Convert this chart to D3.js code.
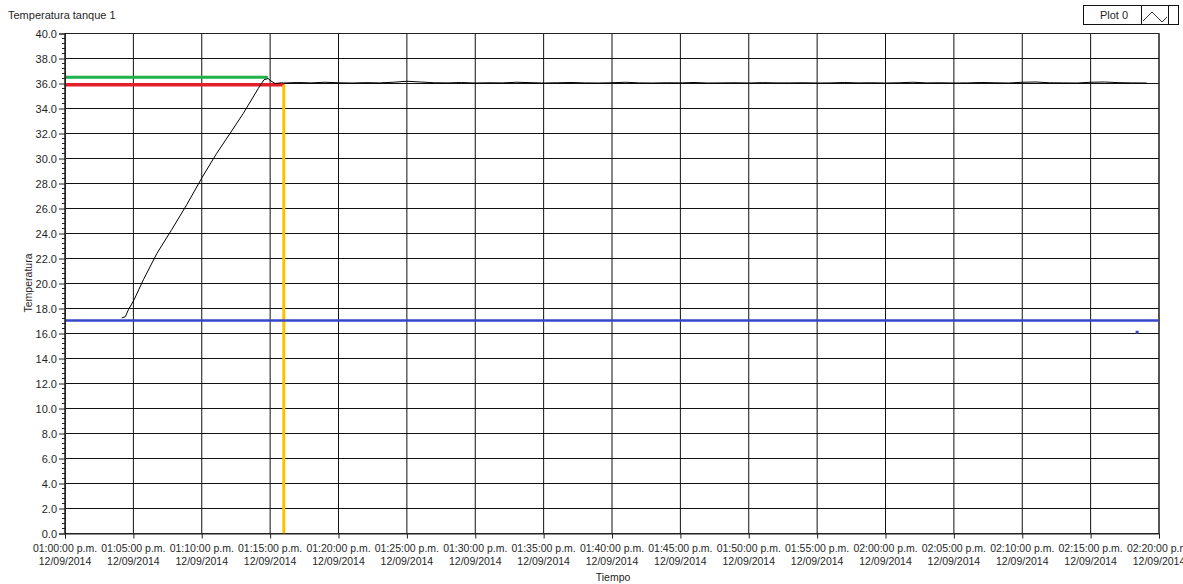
<!DOCTYPE html>
<html>
<head>
<meta charset="utf-8">
<script src="https://cdn.jsdelivr.net/npm/d3@7"></script>
<style>
  html, body { margin: 0; padding: 0; background: #ffffff; }
  svg { display: block; font-family: "Liberation Sans", "DejaVu Sans", sans-serif; }
</style>
</head>
<body>
<svg id="chart" width="1183" height="584"></svg>
<script>
// ---------- data ----------
const chartTitle = "Temperatura tanque 1";
const xLabel = "Tiempo";
const yLabel = "Temperatura";
const legendLabel = "Plot 0";
const dateLabel = "12/09/2014";

const xDomain = ["13:00:00", "14:20:00"];
const yDomain = [0, 40];
const xTicks = ["13:00:00","13:05:00","13:10:00","13:15:00","13:20:00","13:25:00","13:30:00","13:35:00",
                "13:40:00","13:45:00","13:50:00","13:55:00","14:00:00","14:05:00","14:10:00","14:15:00","14:20:00"];
const xTickLabels = ["01:00:00 p.m.","01:05:00 p.m.","01:10:00 p.m.","01:15:00 p.m.","01:20:00 p.m.","01:25:00 p.m.",
                     "01:30:00 p.m.","01:35:00 p.m.","01:40:00 p.m.","01:45:00 p.m.","01:50:00 p.m.","01:55:00 p.m.",
                     "02:00:00 p.m.","02:05:00 p.m.","02:10:00 p.m.","02:15:00 p.m.","02:20:00 p.m."];
const yTicks = [0,2,4,6,8,10,12,14,16,18,20,22,24,26,28,30,32,34,36,38,40];

// temperature series (black trace)
const tempTimes = [
  "13:04:09","13:04:25","13:04:38","13:05:03","13:05:44","13:06:43","13:07:48","13:08:54",
  "13:10:02","13:11:05","13:12:04","13:13:02","13:14:08","13:14:33","13:14:51","13:15:04",
  "13:15:22","13:15:50",
  "13:16:00","13:17:00","13:18:00","13:19:00","13:20:00","13:21:00","13:22:00","13:23:00",
  "13:24:00","13:25:00","13:26:00","13:27:00","13:28:00","13:29:00","13:30:00","13:31:00",
  "13:32:00","13:33:00","13:34:00","13:35:00","13:36:00","13:37:00","13:38:00","13:39:00",
  "13:40:00","13:41:00","13:42:00","13:43:00","13:44:00","13:45:00","13:46:00","13:47:00",
  "13:48:00","13:49:00","13:50:00","13:51:00","13:52:00","13:53:00","13:54:00","13:55:00",
  "13:56:00","13:57:00","13:58:00","13:59:00","14:00:00","14:01:00","14:02:00","14:03:00",
  "14:04:00","14:05:00","14:06:00","14:07:00","14:08:00","14:09:00","14:10:00","14:11:00",
  "14:12:00","14:13:00","14:14:00","14:15:00","14:16:00","14:17:00","14:18:00","14:19:06"
];
const tempValues = [
  17.25,17.35,17.9,18.7,20.3,22.4,24.3,26.3,
  28.5,30.4,32.0,33.6,35.6,36.3,36.4,36.2,
  36.0,36.06,
  36.04,36.08,36.05,36.1,36.06,36.04,36.07,36.05,
  36.1,36.18,36.12,36.06,36.05,36.08,36.04,36.06,
  36.05,36.1,36.07,36.04,36.06,36.08,36.05,36.04,
  36.06,36.1,36.05,36.04,36.06,36.05,36.08,36.04,
  36.05,36.06,36.04,36.07,36.05,36.05,36.06,36.04,
  36.05,36.08,36.05,36.06,36.04,36.06,36.1,36.05,
  36.06,36.04,36.05,36.08,36.06,36.04,36.1,36.12,
  36.06,36.05,36.04,36.1,36.12,36.07,36.05,36.04
];

// reference markers
const greenLevel = 36.5,  greenEnd = "13:14:50";
const redLevel = 35.9,    redEnd = "13:16:03";
const yellowTime = "13:16:00";
const blueLevel = 17.05;
const blueDot = { time: "14:18:24", value: 16.1 };

// ---------- layout ----------
const svg = d3.select("#chart");
const parse = d3.timeParse("%H:%M:%S");
const L = 65, R = 1159, T = 33.5, B = 533.5;

const x = d3.scaleTime().domain(xDomain.map(parse)).range([L, R]);
const y = d3.scaleLinear().domain(yDomain).range([B, T]);

// plot background
svg.append("rect").attr("x", L).attr("y", T).attr("width", R - L).attr("height", B - T)
  .attr("fill", "#ffffff");

// grid
const grid = svg.append("g");
grid.selectAll("line.v").data(xTicks.map(parse)).join("line")
  .attr("x1", d => x(d)).attr("x2", d => x(d)).attr("y1", T).attr("y2", B)
  .attr("stroke", "#111").attr("stroke-width", 1);
grid.selectAll("line.h").data(yTicks).join("line")
  .attr("x1", L).attr("x2", R).attr("y1", d => y(d)).attr("y2", d => y(d))
  .attr("stroke", "#111").attr("stroke-width", 1);

// plot frame
svg.append("rect").attr("x", L).attr("y", T).attr("width", R - L).attr("height", B - T)
  .attr("fill", "none").attr("stroke", "#222").attr("stroke-width", 1);

// reference lines
svg.append("line")
  .attr("x1", x(parse(xDomain[0]))).attr("x2", x(parse(greenEnd)))
  .attr("y1", y(greenLevel)).attr("y2", y(greenLevel))
  .attr("stroke", "#1fb14a").attr("stroke-width", 3);
svg.append("line")
  .attr("x1", x(parse(xDomain[0]))).attr("x2", x(parse(redEnd)))
  .attr("y1", y(redLevel)).attr("y2", y(redLevel))
  .attr("stroke", "#e3202a").attr("stroke-width", 3.5);
svg.append("line")
  .attr("x1", x(parse(yellowTime))).attr("x2", x(parse(yellowTime)))
  .attr("y1", y(redLevel)).attr("y2", y(0))
  .attr("stroke", "#ffc000").attr("stroke-width", 3);
svg.append("line")
  .attr("x1", L).attr("x2", R)
  .attr("y1", y(blueLevel)).attr("y2", y(blueLevel))
  .attr("stroke", "#3547c8").attr("stroke-width", 2.5);
svg.append("rect")
  .attr("x", x(parse(blueDot.time)) - 1.5).attr("y", y(blueDot.value) - 1.5)
  .attr("width", 3).attr("height", 3).attr("fill", "#3547c8");

// temperature trace
const series = tempTimes.map((t, i) => ({ t: parse(t), v: tempValues[i] }));
svg.append("path").datum(series)
  .attr("fill", "none").attr("stroke", "#000").attr("stroke-width", 1)
  .attr("d", d3.line().x(d => x(d.t)).y(d => y(d.v)));

// y axis
const yAxis = d3.axisLeft(y).tickValues(yTicks).tickFormat(d3.format(".1f")).tickSize(6).tickPadding(2);
const yAxisG = svg.append("g").attr("transform", `translate(${L},0)`).call(yAxis);
yAxisG.select(".domain").attr("stroke", "#222");
yAxisG.selectAll(".tick line").attr("stroke", "#222");
yAxisG.selectAll("text").attr("font-size", "11px").attr("fill", "#1f1f1f")
  .attr("font-family", "Liberation Sans, sans-serif");
// minor ticks
const minor = d3.range(0, 40.0001, 0.4).filter(v => Math.abs(v / 2 - Math.round(v / 2)) > 0.01);
svg.append("g").selectAll("line").data(minor).join("line")
  .attr("x1", L - 3).attr("x2", L).attr("y1", d => y(d)).attr("y2", d => y(d))
  .attr("stroke", "#222").attr("stroke-width", 1);

// x axis
const xAxis = d3.axisBottom(x).tickValues(xTicks.map(parse)).tickFormat("").tickSize(5);
const xAxisG = svg.append("g").attr("transform", `translate(0,${B})`).call(xAxis);
xAxisG.select(".domain").attr("stroke", "#222");
xAxisG.selectAll(".tick line").attr("stroke", "#222");
const xl = svg.append("g").selectAll("text").data(xTicks.map((t, i) => ({ t: parse(t), lab: xTickLabels[i] })))
  .join("text")
  .attr("x", d => x(d.t)).attr("text-anchor", "middle")
  .attr("font-size", "10.5px").attr("fill", "#1f1f1f");
xl.append("tspan").attr("x", d => x(d.t)).attr("y", 552).text(d => d.lab);
xl.append("tspan").attr("x", d => x(d.t)).attr("y", 565).text(dateLabel);

// axis titles
svg.append("text").attr("x", 613).attr("y", 581).attr("text-anchor", "middle")
  .attr("font-size", "10.5px").attr("fill", "#1f1f1f").text(xLabel);
svg.append("text").attr("transform", "translate(32,283) rotate(-90)").attr("text-anchor", "middle")
  .attr("font-size", "10.5px").attr("fill", "#1f1f1f").text(yLabel);

// title
svg.append("text").attr("x", 8).attr("y", 19).attr("font-size", "11px").attr("fill", "#1f1f1f")
  .text(chartTitle);

// legend
const lg = svg.append("g");
lg.append("rect").attr("x", 1083.5).attr("y", 5.5).attr("width", 95).attr("height", 19)
  .attr("fill", "#fff").attr("stroke", "#111").attr("stroke-width", 1);
lg.append("line").attr("x1", 1141.5).attr("x2", 1141.5).attr("y1", 5.5).attr("y2", 24.5).attr("stroke", "#111");
lg.append("line").attr("x1", 1168.5).attr("x2", 1168.5).attr("y1", 5.5).attr("y2", 24.5).attr("stroke", "#111");
lg.append("text").attr("x", 1114).attr("y", 19).attr("text-anchor", "middle")
  .attr("font-size", "11px").attr("fill", "#1f1f1f").text(legendLabel);
lg.append("path").attr("d", "M1143,21 L1152,12 L1162,22 L1167,17")
  .attr("fill", "none").attr("stroke", "#333").attr("stroke-width", 1);
</script>
</body>
</html>
